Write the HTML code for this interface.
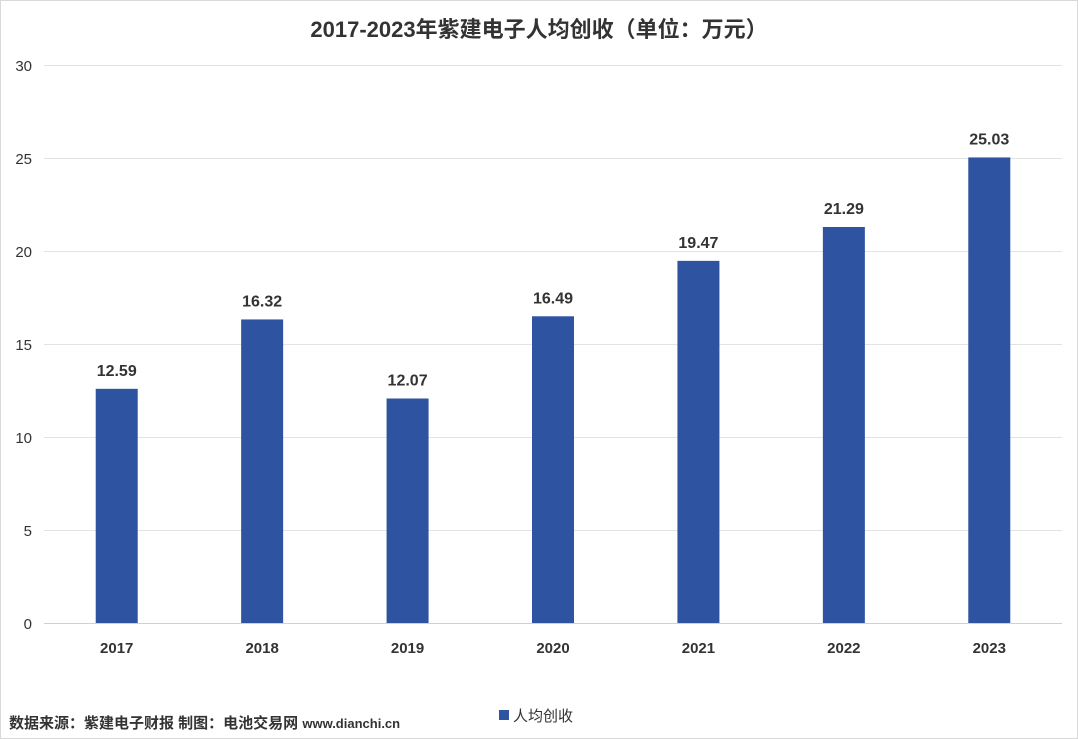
<!DOCTYPE html>
<html><head><meta charset="utf-8"><style>
body{margin:0;background:#fff;}
#wrap{position:relative;width:1076px;height:737px;border:1px solid #d9d9d9;background:#fff;font-family:"Liberation Sans","Noto Sans CJK SC",sans-serif;overflow:hidden}
svg text{font-family:"Liberation Sans","Noto Sans CJK SC",sans-serif}
</style></head><body>
<div id="wrap">
<svg id="chart" width="1076" height="737">
<text x="538" y="36" text-anchor="middle" font-size="22" font-weight="bold" fill="#333">2017-2023年紫建电子人均创收（单位：万元）</text>
<g id="grid"></g><g id="bars"></g>
<g>
<rect x="498" y="709" width="10" height="10" fill="#2e53a1"></rect>
<text x="512" y="720" font-size="15" fill="#333">人均创收</text>
</g>
<text x="8" y="727" font-size="15" font-weight="bold" fill="#333">数据来源：紫建电子财报 制图：电池交易网 <tspan font-size="13" fill="#333">www.dianchi.cn</tspan></text>
</svg>
</div>
<script>
const categories=["2017","2018","2019","2020","2021","2022","2023"];
const values=[12.59,16.32,12.07,16.49,19.47,21.29,25.03];
const labels=["12.59","16.32","12.07","16.49","19.47","21.29","25.03"];
const ticks=[0,5,10,15,20,25,30];
const NS="http://www.w3.org/2000/svg";
const x0=43,x1=1061,y0=622,yTop=64,yMax=30;
const y=v=>y0-(v/yMax)*(y0-yTop);
const band=(x1-x0)/categories.length;
const xc=i=>x0+band*(i+0.5);
const grid=document.getElementById('grid'),bars=document.getElementById('bars');
function mk(t,a,p){const e=document.createElementNS(NS,t);for(const k in a)e.setAttribute(k,a[k]);p.appendChild(e);return e;}
ticks.forEach(t=>{
 const l=mk('line',{x1:x0,x2:x1,y1:y(t)+0.5,y2:y(t)+0.5,stroke:t===0?'#d0d0d0':'#e3e3e3'},grid);
 
 
 const tx=mk('text',{x:31,y:y(t)+6,'text-anchor':'end','font-size':15,fill:'#333'},grid);
 tx.textContent=t;
 
 
});
categories.forEach((c,i)=>{
 const r=mk('rect',{x:xc(i)-21,y:y(values[i]),width:42,height:y0-y(values[i]),fill:'#2e53a1'},bars);
 
 
 const v=mk('text',{x:xc(i),y:y(values[i])-13,'text-anchor':'middle','font-size':16,'font-weight':'bold',fill:'#333'},bars);
 v.textContent=labels[i];
 
 
 const xl=mk('text',{x:xc(i),y:652,'text-anchor':'middle','font-size':15,'font-weight':'bold',fill:'#333'},bars);
 xl.textContent=c;
 
 
});
</script>
</body></html>
